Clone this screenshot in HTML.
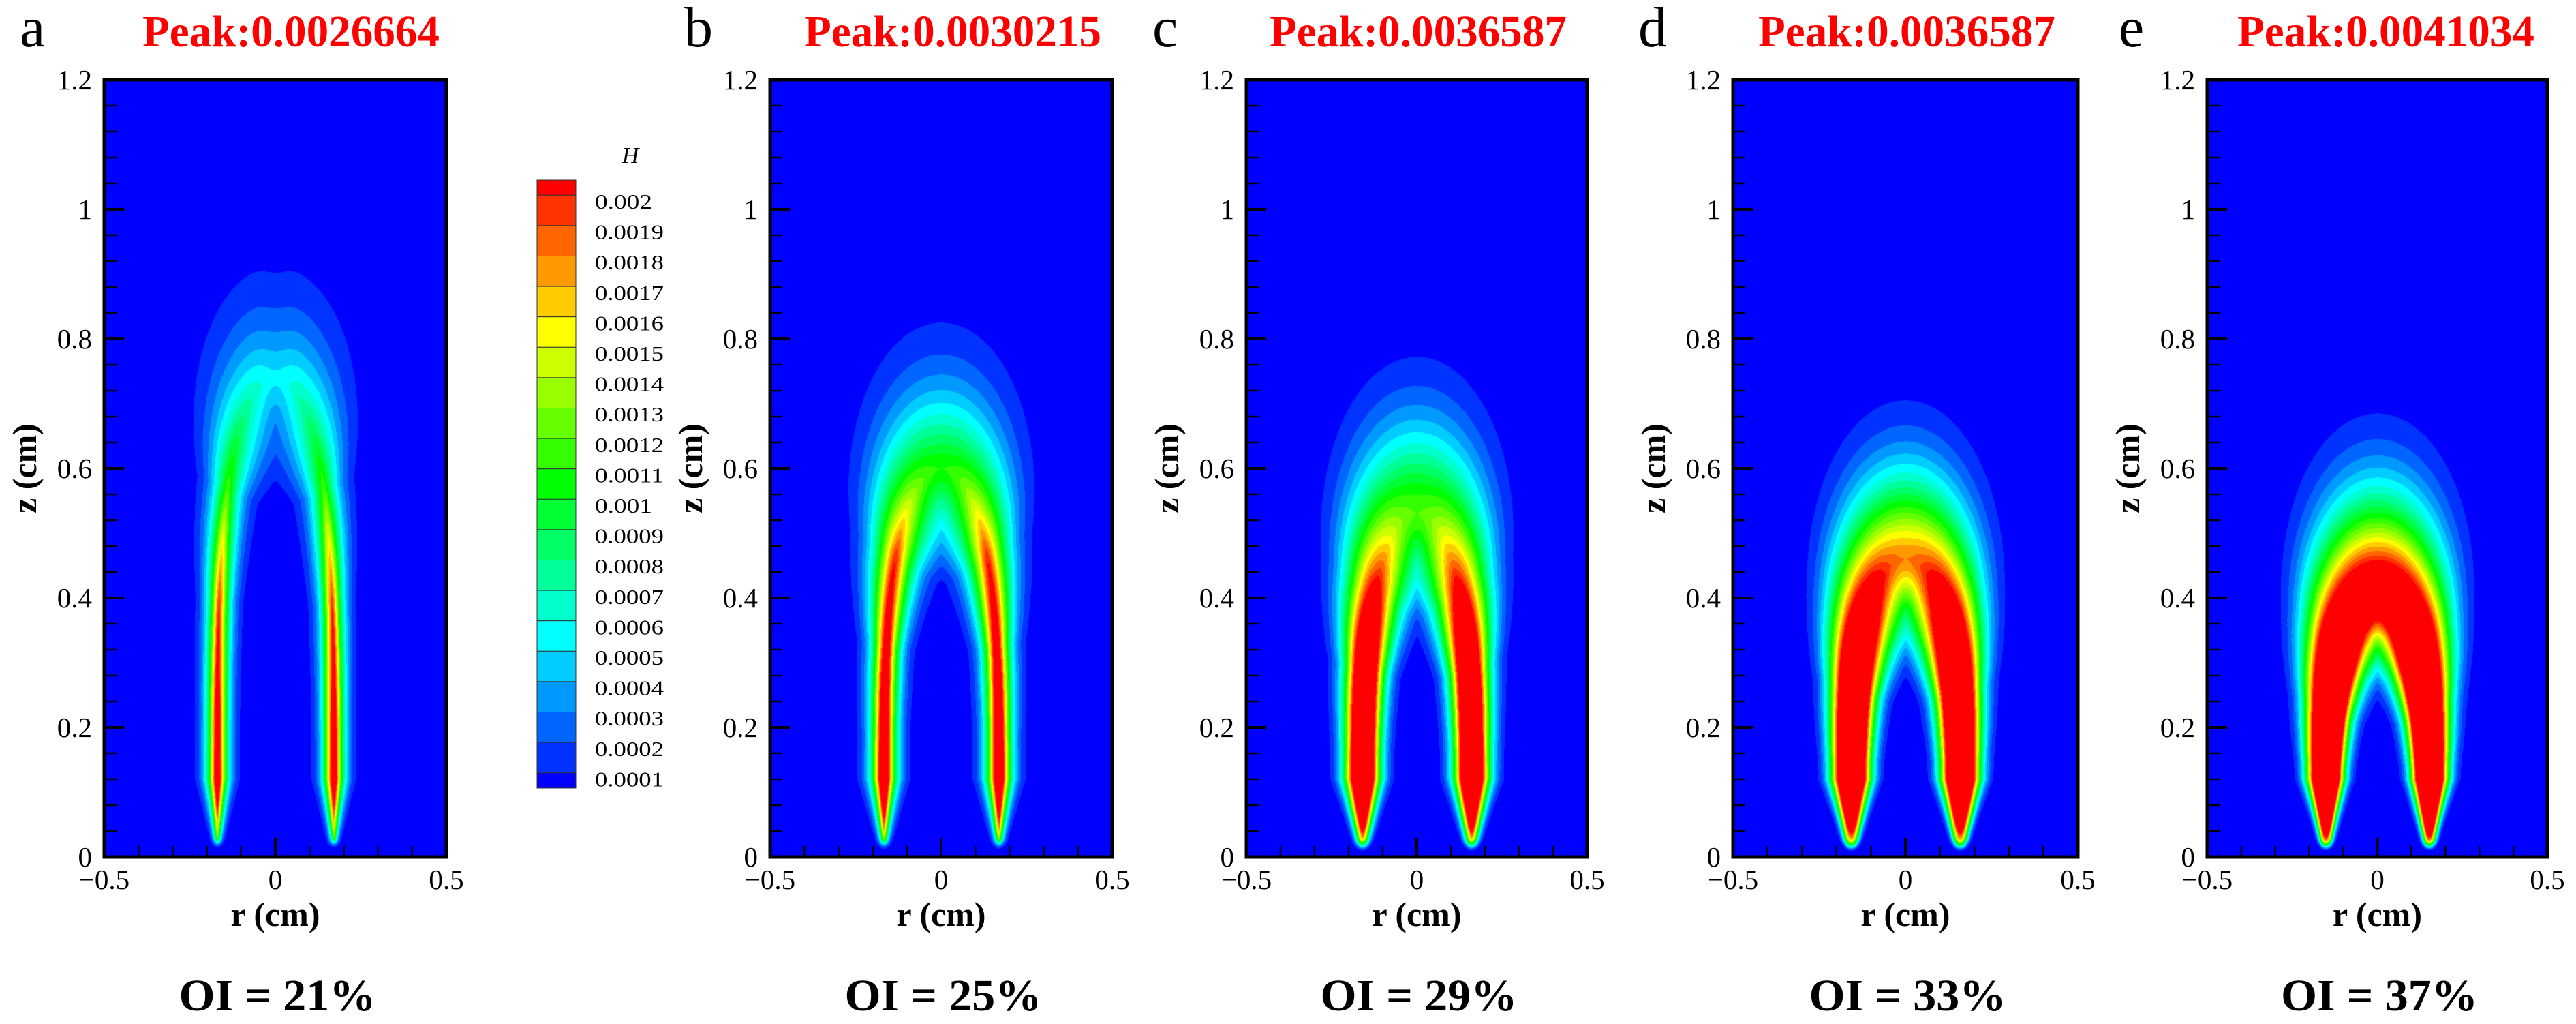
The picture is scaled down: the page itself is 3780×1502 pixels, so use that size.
<!DOCTYPE html>
<html><head><meta charset="utf-8">
<style>
html,body{margin:0;padding:0;background:#fff;}
#root{position:relative;width:3780px;height:1502px;overflow:hidden;background:#fff;}
canvas{position:absolute;}
#ov{position:absolute;left:0;top:0;}
text{font-family:"Liberation Serif",serif;}
</style></head>
<body>
<div id="root">
<svg id="ov" width="3780" height="1502" xmlns="http://www.w3.org/2000/svg"></svg>
</div>
<script>
// ---- data ----
const panelLetters = ['a','b','c','d','e'];
const peakLabels = ['Peak:0.0026664','Peak:0.0030215','Peak:0.0036587','Peak:0.0036587','Peak:0.0041034'];
const oiValues = [21,25,29,33,37];
const yTicks = [0,0.2,0.4,0.6,0.8,1,1.2];
const yTickLabels = ['0','0.2','0.4','0.6','0.8','1','1.2'];
const xTicks = [-0.5,0,0.5];
const xTickLabels = ['\u22120.5','0','0.5'];
const legendLabels = ['0.002','0.0019','0.0018','0.0017','0.0016','0.0015','0.0014','0.0013','0.0012','0.0011','0.001','0.0009','0.0008','0.0007','0.0006','0.0005','0.0004','0.0003','0.0002','0.0001'];
const levelColors = ['#0000ff','#0033ff','#0066ff','#0099ff','#00ccff','#00ffff','#00ffcc','#00ff99','#00ff66','#00ff33','#00ff00','#33ff00','#66ff00','#99ff00','#ccff00','#ffff00','#ffcc00','#ff9900','#ff6600','#ff3300','#ff0000'];
// flame centre-line shape (cm) per panel
const apexZ = [0.74,0.60,0.53,0.46,0.40];
const legR = [0.17,0.168,0.16,0.158,0.152];
const shapeExp = [4,3.5,3,3,2.5];
const skew = [0,0.05,0.1,0.1,0.24];
const dip = [0.12,0,0,0,0];
const profLeg = [1.3,1.3,1.8,2.2,2.2];
const profApex = [1.3,1.4,1.6,1.6,1.6];
// H amplitude (units 1e-4) at height fractions 0, .25, .5, .75, 1
const ampA = [26,24,20,12,6];
const ampB = [30,28,24,20,11];
const ampC = [36,35,32,22,12];
const ampD = [37,37,36,28,18];
const ampE = [41,41,40,36,26];
// band width (cm) at the same height fractions
const sigA = [0.026,0.027,0.03,0.045,0.11];
const sigB = [0.03,0.031,0.036,0.06,0.115];
const sigC = [0.045,0.046,0.052,0.08,0.125];
const sigD = [0.05,0.052,0.06,0.085,0.115];
const sigE = [0.045,0.048,0.058,0.08,0.11];
const amps = [ampA,ampB,ampC,ampD,ampE];
const sigs = [sigA,sigB,sigC,sigD,sigE];

// ---- layout ----
const plotLeft = [153,1130,1829,2543,3239];
const plotW = [502,502,500,506,499];
const plotTop = 117, plotH = 1140;
const letterX = [29,1004,1691,2404,3109];
const peakX = [427,1398,2081,2798,3501];
const NS = 'http://www.w3.org/2000/svg';
const svg = document.getElementById('ov');
const root = document.getElementById('root');

function el(tag, attrs, parent){
  const e = document.createElementNS(NS, tag);
  for (const k in attrs) e.setAttribute(k, attrs[k]);
  (parent||svg).appendChild(e);
  return e;
}
function lerp(arr,h){
  const p = h*(arr.length-1); const i = Math.min(Math.floor(p), arr.length-2); const f = p-i;
  return arr[i]*(1-f)+arr[i+1]*f;
}
function hex(c){return [parseInt(c.substr(1,2),16),parseInt(c.substr(3,2),16),parseInt(c.substr(5,2),16)];}
const rgb = levelColors.map(hex);

function fieldValue(i, r, z, cr, cz, ch){
  const ar = Math.abs(r);
  const z0 = 0.05, A = legR[i], B = apexZ[i]-z0, n = shapeExp[i];
  let best = 1e9, bh = 0;
  for (let k=0;k<cr.length;k++){
    const dx = ar-cr[k], dz = z-cz[k]; const q = dx*dx+dz*dz;
    if (q<best){best=q; bh=ch[k];}
  }
  const dist = Math.sqrt(best);
  const t = (z-z0)/B;
  const inside = z>z0 ? ((ar/A)*(ar/A) + Math.pow(t,n) < 1) : (ar < A && z > 0.03);
  let amp = lerp(amps[i], bh), s = lerp(sigs[i], bh);
  const p = profLeg[i] + (profApex[i]-profLeg[i])*bh;
  s = inside ? s*(1-skew[i]*bh) : s*(1+skew[i]*bh);
  if (z < 0.12){
    const f = Math.max(0, Math.min(1, (z-0.008)/0.112));
    amp *= Math.pow(f, 0.45);
    s *= 0.3+0.7*f;
  }
  let v = amp*Math.exp(-Math.pow(dist/s, p));
  v *= 1 - dip[i]*Math.exp(-(r/0.045)*(r/0.045))*Math.pow(bh,6);
  return v;
}

function drawField(i){
  const W = plotW[i], H = plotH;
  const cv = document.createElement('canvas');
  cv.width = W; cv.height = H;
  cv.style.left = plotLeft[i]+'px'; cv.style.top = plotTop+'px';
  
  
  root.insertBefore(cv, svg);
  const z0 = 0.05, A = legR[i], B = apexZ[i]-z0, n = shapeExp[i];
  const cr=[], cz=[], ch=[];
  for (let k=0;k<=10;k++){ cr.push(A); cz.push(0.03+(z0-0.03)*k/10); ch.push(0); }
  for (let k=1;k<=160;k++){
    const t = k/160;
    cr.push(A*Math.sqrt(Math.max(0,1-Math.pow(t,n)))); cz.push(z0 + B*t); ch.push(t);
  }
  for (let k=1;k<=80;k++){
    const ph = (Math.PI/2)*k/80;
    const t = Math.pow(Math.sin(ph), 2/n);
    cr.push(A*Math.cos(ph)); cz.push(z0 + B*t); ch.push(t);
  }
  const gw = Math.ceil(W/2)+2, gh = Math.ceil(H/2)+2;
  const grid = new Float32Array(gw*gh);
  for (let gy=0; gy<gh; gy++){
    const z = 1.2*(1-(gy*2)/H);
    for (let gx=0; gx<gw; gx++){
      const r = -0.5 + (gx*2)/W;
      grid[gy*gw+gx] = fieldValue(i, r, z, cr, cz, ch);
    }
  }
  const ctx = cv.getContext('2d');
  const img = ctx.createImageData(W, H);
  for (let py=0; py<H; py++){
    const fy = py/2, y0 = Math.floor(fy), ty = fy-y0;
    for (let px=0; px<W; px++){
      const fx = px/2, x0 = Math.floor(fx), tx = fx-x0;
      const a = grid[y0*gw+x0], b = grid[y0*gw+x0+1], c = grid[(y0+1)*gw+x0], d = grid[(y0+1)*gw+x0+1];
      const v = (a*(1-tx)+b*tx)*(1-ty) + (c*(1-tx)+d*tx)*ty;
      const idx = Math.max(0, Math.min(20, Math.floor(v)));
      const col = rgb[idx]; const o = (py*W+px)*4;
      img.data[o]=col[0]; img.data[o+1]=col[1]; img.data[o+2]=col[2]; img.data[o+3]=255;
    }
  }
  ctx.putImageData(img,0,0);
}

function yScale(v){return plotTop + plotH*(1 - v/1.2);}
function xScale(i,v){return plotLeft[i] + plotW[i]*(v+0.5);}

for (let i=0;i<5;i++){
  drawField(i);
  const L = plotLeft[i], W = plotW[i], cx = L+W/2;
  const g = el('g',{});
  
  
  for (let k=0;k<=30;k++){
    const v = k*0.04; const y = yScale(v);
    const major = Math.abs(v/0.2 - Math.round(v/0.2))<1e-6;
    const tk = el('line',{x1:L,x2:L+(major?29:18),y1:y,y2:y,stroke:'#000','stroke-width':major?4:2.5},g);
    
    
  }
  for (let k=0;k<=10;k++){
    const v = -0.5+k*0.1; const x = xScale(i,v);
    const major = (k%5===0);
    const tk = el('line',{x1:x,x2:x,y1:plotTop+plotH,y2:plotTop+plotH-(major?28:16),stroke:'#000','stroke-width':major?4:2.5},g);
    
    
  }
  const frame = el('rect',{x:L,y:plotTop,width:W,height:plotH,fill:'none',stroke:'#000','stroke-width':5},g);
  
  
  yTicks.forEach((v,k)=>{
    const t = el('text',{x:L-18,y:yScale(v)+14,'text-anchor':'end','font-size':41},g);
    t.textContent = yTickLabels[k];
    
    
  });
  xTicks.forEach((v,k)=>{
    const t = el('text',{x:xScale(i,v),y:1304,'text-anchor':'middle','font-size':41},g);
    t.textContent = xTickLabels[k];
    
    
  });
  const xt = el('text',{x:cx,y:1358,'text-anchor':'middle','font-size':50,'font-weight':'bold'},g);
  xt.textContent = 'r (cm)';
  
  
  const yt = el('text',{x:0,y:0,'text-anchor':'middle','font-size':50,'font-weight':'bold',transform:'translate('+(L-100)+',687) rotate(-90)'},g);
  yt.textContent = 'z (cm)';
  
  
  const lt = el('text',{x:letterX[i],y:68,'font-size':84},g);
  lt.textContent = panelLetters[i];
  
  
  const pk = el('text',{x:peakX[i],y:68,'text-anchor':'middle','font-size':66,'font-weight':'bold',fill:'#ff0000',textLength:436,lengthAdjust:'spacingAndGlyphs'},g);
  pk.textContent = peakLabels[i];
  
  
  const oi = el('text',{x:cx+3,y:1482,'text-anchor':'middle','font-size':66,'font-weight':'bold',textLength:289,lengthAdjust:'spacingAndGlyphs'},g);
  oi.textContent = 'OI = '+oiValues[i]+'%';
  
  
}

// ---- colour legend ----
const lg = el('g',{});


const cbX = 788, cbW = 57, cbTop = 264, cbBot = 1156;
const band = (cbBot-cbTop)/20;
for (let k=0;k<21;k++){
  const y0 = k===0 ? cbTop : cbTop + band/2 + (k-1)*band;
  const y1 = k===20 ? cbBot : cbTop + band/2 + k*band;
  const r = el('rect',{x:cbX,y:y0,width:cbW,height:y1-y0,fill:levelColors[20-k],stroke:'#333','stroke-width':1},lg);
  
  
}
legendLabels.forEach((s,k)=>{
  const t = el('text',{x:873,y:295+band*k+11,'font-size':31,textLength:s.length>5?101:84,lengthAdjust:'spacingAndGlyphs'},lg);
  t.textContent = s;
  
  
});
const ht = el('text',{x:925,y:239,'text-anchor':'middle','font-size':34,'font-style':'italic'},lg);
ht.textContent = 'H';


</script>
</body></html>
